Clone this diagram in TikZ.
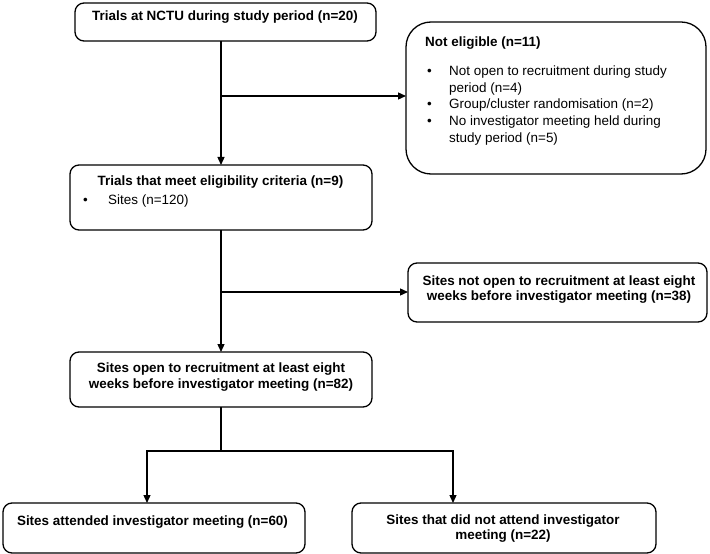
\documentclass[tikz,border=0pt]{standalone}
\usepackage{fontspec}
\setmainfont{Liberation Sans}
\usetikzlibrary{arrows.meta}
\begin{document}
\begin{tikzpicture}[x=1bp,y=-1bp,
  box/.style={draw, line width=1.3bp, rounded corners=9bp, inner sep=0pt, outer sep=0pt},
  lbl/.style={font=\bfseries\fontsize{13.5}{15.5}\selectfont, inner sep=0pt, anchor=base},
  txt/.style={font=\fontsize{13.5}{15.5}\selectfont, inner sep=0pt, anchor=base west},
  arr/.style={line width=1.3bp, -{Triangle[length=8bp,width=7bp]}},
  ln/.style={line width=1.3bp}]
\useasboundingbox (0,0) rectangle (710,554);

% boxes
\node[box, minimum width=301bp, minimum height=38bp] (b1) at (225.5,22) {};
\node[box, rounded corners=25bp, minimum width=300bp, minimum height=152bp] (ne) at (556,98) {};
\node[box, minimum width=302bp, minimum height=65bp] (b3) at (221,197.5) {};
\node[box, minimum width=299bp, minimum height=59bp] (b4) at (557.5,292.5) {};
\node[box, minimum width=302bp, minimum height=55bp] (b5) at (221,379.5) {};
\node[box, minimum width=302bp, minimum height=50bp] (b6) at (154,528) {};
\node[box, minimum width=304bp, minimum height=50bp] (b7) at (504,528) {};

% texts
\node[lbl] (t1) at (225,21) {Trials at NCTU during study period (n=20)};

\node[lbl, anchor=base west] (tne) at (425,47) {Not eligible (n=11)};
\node[txt] (u1) at (427,76) {\textbullet};
\node[txt] (l1) at (449,76) {Not open to recruitment during study};
\node[txt] (l2) at (449,92.5) {period (n=4)};
\node[txt] (u2) at (427,109) {\textbullet};
\node[txt] (l3) at (449,109) {Group/cluster randomisation (n=2)};
\node[txt] (u3) at (427,126) {\textbullet};
\node[txt] (l4) at (449,126) {No investigator meeting held during};
\node[txt] (l5) at (449,143) {study period (n=5)};

\node[lbl] (t3) at (220.5,186) {Trials that meet eligibility criteria (n=9)};
\node[txt] (u4) at (83,205) {\textbullet};
\node[txt] (l6) at (108,205) {Sites (n=120)};

\node[lbl] (t4a) at (559,285) {Sites not open to recruitment at least eight};
\node[lbl] (t4b) at (559,300) {weeks before investigator meeting (n=38)};
\node[lbl] (t5a) at (221,372.5) {Sites open to recruitment at least eight};
\node[lbl] (t5b) at (221,388) {weeks before investigator meeting (n=82)};
\node[lbl] (t6) at (152.5,525.5) {Sites attended investigator meeting (n=60)};
\node[lbl] (t7a) at (503,524.5) {Sites that did not attend investigator};
\node[lbl] (t7b) at (503,539.5) {meeting (n=22)};

% connectors
\coordinate (j1) at (221,96);
\coordinate (j2) at (221,292);
\coordinate (j3) at (221,451);
\coordinate (jl) at (147,451);
\coordinate (jr) at (453,451);

\draw[arr] (b1.south -| b3.north) -- (b3.north);
\draw[arr] (j1) -- (j1 -| ne.west);
\draw[arr] (b3.south) -- (b5.north);
\draw[arr] (j2) -- (j2 -| b4.west);
\draw[ln] (b5.south) -- (j3);
\draw[arr] (j3) -| (jl |- b6.north);
\draw[arr] (j3) -| (jr |- b7.north);
\end{tikzpicture}
\end{document}
